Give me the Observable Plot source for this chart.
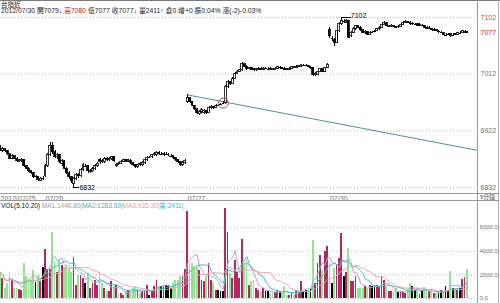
<!DOCTYPE html>
<html><head><meta charset="utf-8">
<script src="https://cdn.jsdelivr.net/npm/d3@7"></script>
<script src="https://cdn.jsdelivr.net/npm/@observablehq/plot@0.6"></script>
<style>
body{margin:0;background:#fff;}
#wrap{position:relative;width:500px;height:303px;overflow:hidden;background:#fff;}
#wrap svg{position:absolute;left:0;}
</style></head><body><div id="wrap"></div>
<script>
// ---- data ----
const title = "台指近";
const dayLabels = ["2012/07/25", "07/26", "07/27", "07/30"];
const dayStart = [0, 19, 79, 139];
const priceTicks = [7102, 7012, 6922, 6832];
const volTicks = [0, 2000, 4000, 6000];
const opens = [
6896,6890,6893,6890,6885,6878,6882,6878,6872,6874,6876,6866,6862,6858,6855,6849,6849,6843,6846,
6850,6866,6884,6898,6888,6880,6884,6870,6874,6862,6855,6848,6838,6846,6852,6850,6860,6866,6866,6856,6858,6861,6866,6876,6874,6872,6878,6876,6877,6880,6866,6870,6870,6873,6875,6873,6874,6871,6867,6864,6869,6868,6871,6875,6880,6880,6883,6884,6887,6885,6884,6885,6884,6882,6882,6879,6876,6872,6868,6871,
6968,6974,6968,6962,6956,6948,6952,6950,6954,6950,6958,6960,6958,6962,6964,6966,6966,6992,7000,6996,7004,7012,7016,7018,7028,7024,7020,7022,7020,7018,7019,7021,7019,7021,7020,7021,7020,7019,7021,7022,7022,7021,7020,7019,7021,7023,7022,7024,7024,7026,7025,7025,7022,7022,7010,7011,7016,7020,7016,7022,
7082,7068,7066,7062,7080,7092,7096,7094,7097,7072,7078,7084,7088,7086,7082,7077,7079,7075,7078,7080,7080,7083,7086,7090,7093,7087,7087,7089,7087,7087,7087,7090,7093,7095,7094,7092,7091,7091,7089,7089,7089,7086,7084,7084,7081,7082,7079,7078,7077,7074,7075,7076,7074,7076,7075,7077,7077,7078,7079];
const highs = [
6898,6895,6894,6891,6886,6884,6883,6879,6877,6878,6877,6867,6863,6859,6856,6851,6850,6848,6849,
6868,6886,6903,6904,6890,6886,6885,6877,6875,6864,6857,6850,6848,6854,6855,6862,6870,6869,6867,6860,6863,6868,6872,6878,6876,6879,6880,6880,6882,6881,6870,6872,6875,6877,6876,6877,6876,6872,6868,6869,6871,6873,6877,6881,6882,6885,6887,6889,6889,6888,6888,6887,6886,6884,6883,6880,6877,6873,6873,6876,
6979,6975,6969,6963,6957,6954,6957,6956,6955,6960,6962,6961,6964,6964,6966,6968,6994,7002,7001,7006,7014,7018,7020,7030,7029,7025,7023,7023,7021,7021,7022,7022,7022,7023,7022,7022,7021,7022,7024,7024,7023,7022,7021,7022,7024,7024,7025,7026,7028,7028,7027,7026,7024,7023,7014,7017,7021,7021,7023,7029,
7086,7072,7068,7082,7094,7102,7099,7099,7098,7080,7086,7090,7089,7087,7083,7081,7080,7080,7080,7082,7085,7088,7092,7095,7094,7090,7091,7090,7088,7089,7092,7095,7097,7096,7095,7094,7093,7092,7092,7091,7090,7087,7087,7085,7084,7083,7081,7080,7078,7076,7077,7077,7076,7077,7078,7079,7081,7081,7080];
const lows = [
6889,6888,6888,6883,6876,6876,6876,6872,6871,6872,6864,6860,6856,6853,6846,6847,6842,6841,6843,
6848,6864,6882,6885,6878,6877,6870,6866,6860,6852,6845,6838,6832,6843,6847,6848,6858,6863,6855,6854,6856,6859,6864,6869,6870,6870,6874,6874,6875,6872,6864,6867,6868,6871,6871,6871,6869,6865,6862,6862,6866,6866,6869,6873,6878,6878,6881,6882,6883,6883,6882,6883,6882,6880,6877,6874,6870,6866,6866,6869,
6966,6966,6960,6954,6948,6946,6950,6948,6948,6949,6956,6956,6957,6960,6962,6964,6964,6990,6994,6995,7003,7011,7015,7017,7022,7018,7019,7018,7017,7017,7018,7018,7018,7019,7018,7018,7018,7018,7020,7020,7019,7018,7018,7018,7020,7021,7021,7023,7023,7024,7024,7022,7020,7008,7009,7010,7015,7015,7015,7021,
7068,7064,7056,7060,7078,7090,7092,7092,7068,7070,7076,7082,7084,7080,7076,7075,7073,7074,7076,7078,7079,7082,7085,7089,7087,7086,7086,7086,7084,7085,7086,7089,7092,7092,7090,7090,7089,7088,7088,7087,7085,7083,7083,7081,7080,7079,7077,7076,7074,7072,7073,7071,7072,7074,7074,7075,7076,7077,7077];
const closes = [
6892,6893,6890,6885,6878,6882,6878,6874,6875,6876,6866,6862,6858,6855,6848,6849,6844,6846,6846,
6866,6884,6898,6888,6880,6884,6872,6874,6862,6855,6848,6842,6846,6852,6850,6860,6868,6866,6858,6858,6861,6866,6870,6872,6872,6877,6876,6878,6880,6874,6868,6869,6873,6875,6873,6875,6871,6867,6864,6867,6868,6871,6875,6879,6880,6883,6885,6887,6885,6885,6886,6885,6884,6882,6879,6876,6872,6868,6871,6874,
6974,6968,6962,6956,6950,6952,6955,6954,6950,6958,6960,6958,6962,6962,6964,6966,6992,7000,6996,7004,7012,7016,7018,7028,7024,7020,7022,7019,7018,7020,7021,7019,7021,7021,7020,7019,7019,7021,7023,7022,7020,7019,7019,7021,7023,7022,7024,7025,7027,7026,7025,7023,7022,7010,7012,7016,7020,7016,7022,7027,
7072,7068,7062,7080,7092,7096,7096,7097,7070,7078,7084,7088,7086,7082,7078,7079,7075,7078,7078,7080,7083,7086,7090,7093,7088,7088,7089,7087,7085,7087,7090,7093,7095,7093,7091,7092,7091,7089,7090,7089,7086,7084,7085,7082,7082,7080,7079,7078,7075,7074,7075,7073,7074,7075,7077,7077,7080,7079,7077];
const volumes = [
2220,1670,830,1250,2220,1530,830,830,780,700,2920,1810,1670,1530,2360,1310,1950,1390,2640,
4090,2420,2420,5560,3200,2220,3250,2780,2640,2700,2500,2200,3470,1110,1950,1950,1670,1250,2090,830,1250,1530,1110,2220,1250,830,560,560,1390,970,1110,420,420,280,560,640,700,830,970,700,420,560,560,1110,280,700,1030,1530,970,970,1030,1110,1110,830,1250,1530,1530,1810,1810,2420,
7300,2970,2920,2640,2590,2360,1530,1390,1810,2920,1530,1310,700,700,560,560,7600,5560,2090,1670,3200,2220,1670,5000,2920,3200,1110,1390,1530,830,700,560,830,560,610,420,560,500,700,470,420,970,280,280,420,280,700,560,1470,560,700,700,830,4860,1250,2920,3610,2360,3980,4360,
2920,1250,2500,2860,3340,5480,1810,2220,4170,1390,1390,1810,830,830,830,970,830,1110,1030,970,1110,970,1810,1530,970,560,560,560,830,480,560,480,420,760,1250,970,700,830,360,560,900,700,560,560,420,420,420,700,630,970,700,2270,830,832,650,830,1563,1780,2411];
const trendIdx = [79, 201.27];
const trendPrice = [6979, 6891];
const circleIdx = [94];
const circlePrice = [6966];
const maPeriods = [5, 10, 20];

// ---- derived ----
const bars = opens.map((o, i) => ({i, o, h: highs[i], l: lows[i], c: closes[i], v: volumes[i]}));
const N = bars.length;
const last = bars[N - 1];
const maColors = ["#a9adc4", "#3fbfcc", "#eaa1ad"];
const maSeries = maPeriods.map((n, k) => bars.map((d, i) => ({
  i, k, v: d3.mean(volumes.slice(Math.max(0, i - n + 1), i + 1))
})));
const hi = bars[d3.maxIndex(bars, d => d.h)];
const lo = bars[d3.minIndex(bars, d => d.l)];
const XD = [0, 201.27];
const font = "'Liberation Sans','Noto Sans CJK TC',sans-serif";
const upCol = "#b3285f", dnCol = "#8fe68f";
const crisp = {shapeRendering: "crispEdges"};

const price = Plot.plot({
  width: 500, height: 187, margin: 0,
  x: {domain: XD, range: [0, 477], axis: null},
  y: {domain: [6832, 7102], range: [173, 3], axis: null},
  style: {background: "transparent", fontFamily: font, fontSize: "7px", overflow: "visible"},
  marks: [
    Plot.ruleY(priceTicks, {y: d => d, x1: XD[0], x2: XD[1], stroke: "#b8b8b8", strokeDasharray: "1,2"}),
    Plot.line(trendIdx.map((x, k) => ({x, y: trendPrice[k]})), {x: "x", y: "y", stroke: "#4f8fa0", strokeWidth: 1}),
    Plot.ruleX(bars, {x: "i", y1: "l", y2: "h", stroke: "#000", ...crisp}),
    Plot.rect(bars.filter(d => d.o !== d.c), {x1: d => d.i - 0.4, x2: d => d.i + 0.4, y1: "o", y2: "c",
      fill: d => d.c > d.o ? "#fff" : "#000", stroke: "#000", strokeWidth: 0.8, ...crisp}),
    Plot.ruleY(bars.filter(d => d.o === d.c), {x1: d => d.i - 0.5, x2: d => d.i + 0.5, y: "c", stroke: "#000", ...crisp}),
    Plot.dot(circleIdx.map((x, k) => ({x, y: circlePrice[k]})), {x: "x", y: "y", r: 5, stroke: "#c0473f", fill: "none", strokeWidth: 1}),
    // extreme annotations
    Plot.line([{x: hi.i, y: hi.h}, {x: hi.i + 3.4, y: hi.h}], {x: "x", y: "y", stroke: "#000", ...crisp}),
    Plot.text([hi], {x: d => d.i + 3.8, y: "h", text: d => String(d.h), textAnchor: "start", dy: -1.5, fill: "#000"}),
    Plot.line([{x: lo.i, y: lo.l}, {x: lo.i + 2, y: lo.l}], {x: "x", y: "y", stroke: "#000", ...crisp}),
    Plot.text([lo], {x: d => d.i + 2.3, y: "l", text: d => String(d.l), textAnchor: "start", fill: "#000"}),
    // right axis
    Plot.text(priceTicks, {x: XD[1], y: d => d, text: d => String(d), dx: 3, textAnchor: "start", fill: "#707070"}),
    Plot.text([last], {x: XD[1], y: "c", text: d => String(d.c), dx: 3, textAnchor: "start", fill: "#e01010"}),
    // date row
    Plot.text(dayLabels, {x: (d, k) => dayStart[k], text: d => d, frameAnchor: "bottom", lineAnchor: "bottom",
      dy: -1, textAnchor: "start", fill: "#707070"})
  ]
});
price.style.top = "14px";

const vol = Plot.plot({
  width: 500, height: 102, margin: 0,
  x: {domain: XD, range: [0, 477], axis: null},
  y: {domain: [0, 6000], range: [97, 25.7], axis: null},
  style: {background: "transparent", fontFamily: font, fontSize: "6px", overflow: "visible"},
  marks: [
    Plot.ruleY(volTicks, {y: d => d, x1: XD[0], x2: XD[1], stroke: "#b8b8b8", strokeDasharray: "1,2"}),
    Plot.rect(bars, {x1: d => d.i - 0.38, x2: d => d.i + 0.38, y1: 0, y2: "v",
      fill: d => d.c > d.o ? upCol : d.c < d.o ? dnCol : "#000", ...crisp}),
    ...maSeries.map((s, k) => Plot.line(s, {x: "i", y: "v", stroke: maColors[k], strokeWidth: 1})),
    Plot.text(volTicks, {x: XD[1], y: d => d, text: d => d.toFixed(1), dx: 2, textAnchor: "start", fill: "#707070"})
  ]
});
vol.style.top = "201px";

const wrap = document.getElementById("wrap");
wrap.appendChild(price);
wrap.appendChild(vol);

// ---- frame and header texts ----
const ma = maSeries.map(s => s[N - 1].v.toFixed(2));
const fmtPct = x => x.toFixed(2) + "%";
const ov = d3.select(wrap).append("svg").attr("width", 500).attr("height", 303)
  .style("top", "0px").style("pointer-events", "none")
  .style("font-family", "'Liberation Sans','Noto Sans CJK TC',sans-serif");
const ln = (x1, y1, x2, y2, c) => ov.append("line").attr("x1", x1).attr("y1", y1).attr("x2", x2).attr("y2", y2)
  .attr("stroke", c).attr("shape-rendering", "crispEdges");
ln(0, 0.5, 500, 0.5, "#7a7a7a");
ln(477.5, 0, 477.5, 303, "#9a9a9a");
ln(498.5, 0, 498.5, 303, "#b0b0b0");
ln(0, 193.5, 499, 193.5, "#9a9a9a");
ln(0, 200.5, 499, 200.5, "#9a9a9a");

ov.append("text").attr("x", 1).attr("y", 7.3).attr("font-size", 6.5).attr("fill", "#222").text(title);

const h2 = ov.append("text").attr("x", 1).attr("y", 13.2).attr("font-size", 6.8).attr("fill", "#222");
const prevClose = last.c + 2;
const parts = [
  ["2012/07/30 開" + last.o + "↓ ", "#222"],
  ["高" + last.h, "#d01010"],
  [" 低" + last.l + " 收" + last.c + "↓ 量" + last.v + "↑ 倉0 增+0 振" + fmtPct((last.h - last.l) / prevClose * 100) +
   " 漲(" + (last.c - prevClose) + ")" + fmtPct((last.c - prevClose) / prevClose * 100), "#222"]
];
parts.forEach(([t, c]) => h2.append("tspan").attr("fill", c).text(t));

const vh = ov.append("text").attr("x", 1).attr("y", 208.3).attr("font-size", 6.5);
[["VOL(" + maPeriods.join(",") + ") ", "#111"], ["MA1:" + ma[0], "#a0a0a0"], ["|", "#3fbfcc"],
 ["MA2:" + ma[1], "#2fb5c0"], ["|", "#3fbfcc"], ["MA3:" + ma[2], "#e59aa6"], ["|", "#3fbfcc"],
 ["量:" + last.v, "#2fb5c0"], ["|", "#3fbfcc"]]
  .forEach(([t, c]) => vh.append("tspan").attr("fill", c).text(t));

ov.append("text").attr("x", 480).attr("y", 199.3).attr("font-size", 6).attr("fill", "#555").text("5分鐘");
</script></body></html>
